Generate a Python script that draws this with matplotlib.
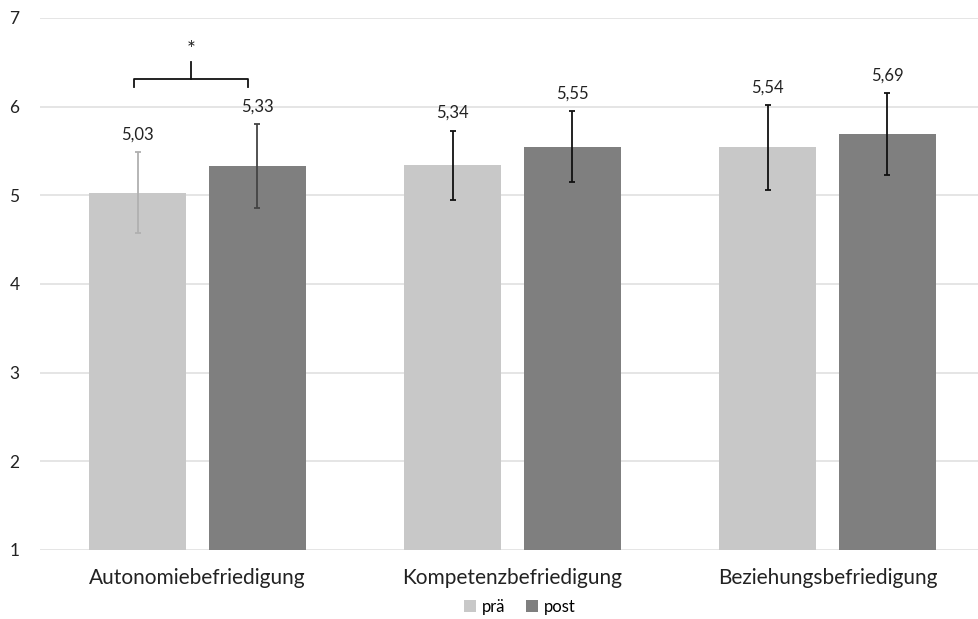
import numpy as np
import matplotlib.pyplot as plt

plt.rcParams['font.family'] = ['Lato', 'DejaVu Sans']

# Data
categories = ['Autonomiebefriedigung', 'Kompetenzbefriedigung', 'Beziehungsbefriedigung']
pre_means = [5.03, 5.34, 5.54]
post_means = [5.33, 5.55, 5.69]
pre_sd = [0.46, 0.39, 0.48]
post_sd = [0.47, 0.40, 0.465]
labels_pre = ['5,03', '5,34', '5,54']
labels_post = ['5,33', '5,55', '5,69']

fig = plt.figure(figsize=(9.79, 6.19), dpi=100)
ax = fig.add_axes([40 / 979, 69 / 619, 945 / 979, 532 / 619])

x = np.arange(len(categories))
width = 0.31
off = 0.19

ax.bar(x - off, np.array(pre_means) - 1, width, bottom=1, color='#c8c8c8', label='prä', zorder=2)
ax.bar(x + off, np.array(post_means) - 1, width, bottom=1, color='#7f7f7f', label='post', zorder=2)

# Error bars (first group drawn lighter, as in the original)
err_colors_pre = ['#b0b0b0', '#111111', '#111111']
err_colors_post = ['#444444', '#111111', '#111111']
for i in range(len(categories)):
    ax.errorbar(x[i] - off, pre_means[i], yerr=pre_sd[i], fmt='none', ecolor=err_colors_pre[i],
                elinewidth=1.3, capsize=2.5, capthick=1.3, zorder=3)
    ax.errorbar(x[i] + off, post_means[i], yerr=post_sd[i], fmt='none', ecolor=err_colors_post[i],
                elinewidth=1.3, capsize=2.5, capthick=1.3, zorder=3)
    ax.annotate(labels_pre[i], (x[i] - off, pre_means[i] + pre_sd[i]), xytext=(0, 7),
                textcoords='offset points', ha='center', va='bottom', fontsize=12, color='#222222')
    ax.annotate(labels_post[i], (x[i] + off, post_means[i] + post_sd[i]), xytext=(0, 7),
                textcoords='offset points', ha='center', va='bottom', fontsize=12, color='#222222')

# Significance bracket
bx0, bx1, by = -0.20, 0.16, 6.31
ax.plot([bx0, bx0, bx1, bx1], [by - 0.09, by, by, by - 0.09], color='#111111', lw=1.3, zorder=3)
ax.plot([(bx0 + bx1) / 2] * 2, [by, by + 0.19], color='#111111', lw=1.3, zorder=3)
ax.text((bx0 + bx1) / 2, 6.64, '*', ha='center', va='center', fontsize=15, color='#222222')

ax.set_ylim(1, 7)
ax.set_xlim(-0.5, 2.5)
ax.set_yticks(range(1, 8))
ax.yaxis.grid(True, color='#e0e0e0', lw=1.2, zorder=0)
ax.set_axisbelow(True)
for s in ax.spines.values():
    s.set_visible(False)
ax.tick_params(axis='both', length=0, labelsize=12.5, colors='#222222')
ax.tick_params(axis='y', pad=22)
ax.set_xticks(x)
ax.set_xticklabels(categories, fontsize=15)
ax.tick_params(axis='x', pad=13)
for lbl in ax.get_yticklabels():
    lbl.set_horizontalalignment('left')

fig.legend(*ax.get_legend_handles_labels(), loc='center', bbox_to_anchor=(520 / 979, 12 / 619),
           ncol=2, frameon=False, fontsize=12, handlelength=0.7, handleheight=0.7,
           handletextpad=0.4, columnspacing=1.2, borderpad=0)

fig.savefig('out.png', dpi=100)
